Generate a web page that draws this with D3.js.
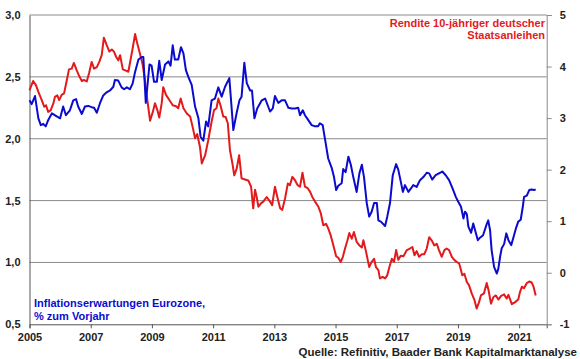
<!DOCTYPE html>
<html>
<head>
<meta charset="utf-8">
<script src="https://cdn.jsdelivr.net/npm/d3@7/dist/d3.min.js"></script>
<style>
  body { margin: 0; background: #fff; }
  svg text { font-family: "Liberation Sans", Arial, sans-serif; font-weight: bold; }
</style>
</head>
<body>
<svg id="chart" width="580" height="359"></svg>
<script>
// Inflationserwartungen Eurozone (linke Achse), [Jahr, % zum Vorjahr]
const inflation = [
  [2005.00, 2.31], [2005.07, 2.28], [2005.18, 2.345], [2005.29, 2.165], [2005.37, 2.11], [2005.45, 2.12],
  [2005.53, 2.10], [2005.61, 2.15], [2005.73, 2.205], [2005.89, 2.18], [2006.00, 2.165], [2006.10, 2.26],
  [2006.19, 2.19], [2006.32, 2.23], [2006.43, 2.31], [2006.52, 2.32], [2006.59, 2.26], [2006.71, 2.20],
  [2006.81, 2.26], [2006.92, 2.265], [2007.03, 2.255], [2007.11, 2.25], [2007.20, 2.21], [2007.30, 2.285],
  [2007.41, 2.35], [2007.52, 2.375], [2007.63, 2.39], [2007.74, 2.42], [2007.79, 2.475], [2007.90, 2.47],
  [2008.01, 2.415], [2008.09, 2.40], [2008.18, 2.415], [2008.28, 2.40], [2008.37, 2.445], [2008.45, 2.54],
  [2008.56, 2.64], [2008.67, 2.66], [2008.72, 2.66], [2008.80, 2.29], [2008.92, 2.60], [2008.99, 2.59],
  [2009.07, 2.46], [2009.16, 2.46], [2009.24, 2.63], [2009.32, 2.475], [2009.43, 2.60], [2009.54, 2.625],
  [2009.61, 2.59], [2009.68, 2.755], [2009.75, 2.64], [2009.86, 2.64], [2009.95, 2.74], [2010.03, 2.69],
  [2010.11, 2.555], [2010.19, 2.50], [2010.30, 2.435], [2010.41, 2.26], [2010.52, 2.165], [2010.59, 2.016],
  [2010.68, 1.985], [2010.77, 2.14], [2010.84, 2.10], [2010.95, 2.31], [2011.06, 2.325], [2011.17, 2.415],
  [2011.28, 2.34], [2011.39, 2.42], [2011.53, 2.49], [2011.66, 2.07], [2011.77, 2.21], [2011.86, 2.31],
  [2011.93, 2.34], [2012.02, 2.615], [2012.10, 2.45], [2012.21, 2.39], [2012.27, 2.39], [2012.35, 2.165],
  [2012.44, 2.245], [2012.59, 2.31], [2012.70, 2.325], [2012.86, 2.22], [2012.95, 2.245], [2013.02, 2.345],
  [2013.13, 2.29], [2013.24, 2.31], [2013.35, 2.31], [2013.46, 2.25], [2013.57, 2.245], [2013.68, 2.245],
  [2013.78, 2.25], [2013.84, 2.19], [2013.93, 2.23], [2014.00, 2.19], [2014.11, 2.15], [2014.22, 2.11],
  [2014.33, 2.10], [2014.43, 2.10], [2014.49, 2.125], [2014.58, 2.11], [2014.66, 1.99], [2014.76, 1.84],
  [2014.88, 1.76], [2014.95, 1.69], [2015.02, 1.585], [2015.09, 1.62], [2015.20, 1.64], [2015.25, 1.755],
  [2015.33, 1.73], [2015.42, 1.855], [2015.50, 1.79], [2015.58, 1.69], [2015.69, 1.57], [2015.78, 1.72],
  [2015.86, 1.79], [2015.93, 1.69], [2016.02, 1.48], [2016.10, 1.37], [2016.18, 1.41], [2016.26, 1.48],
  [2016.35, 1.48], [2016.40, 1.34], [2016.48, 1.33], [2016.62, 1.295], [2016.69, 1.37], [2016.78, 1.48],
  [2016.87, 1.705], [2016.98, 1.795], [2017.05, 1.75], [2017.13, 1.655], [2017.20, 1.57], [2017.27, 1.625],
  [2017.38, 1.57], [2017.47, 1.60], [2017.54, 1.625], [2017.65, 1.61], [2017.76, 1.665], [2017.87, 1.69],
  [2017.98, 1.725], [2018.06, 1.72], [2018.16, 1.67], [2018.27, 1.705], [2018.38, 1.72], [2018.49, 1.735],
  [2018.60, 1.705], [2018.71, 1.665], [2018.82, 1.60], [2018.93, 1.53], [2019.01, 1.49], [2019.10, 1.45],
  [2019.18, 1.355], [2019.23, 1.41], [2019.29, 1.39], [2019.34, 1.29], [2019.43, 1.24], [2019.50, 1.315],
  [2019.56, 1.26], [2019.65, 1.18], [2019.72, 1.20], [2019.82, 1.22], [2019.94, 1.31], [2019.99, 1.34],
  [2020.05, 1.26], [2020.10, 1.10], [2020.18, 0.965], [2020.27, 0.91], [2020.32, 0.95], [2020.38, 1.05],
  [2020.43, 1.115], [2020.51, 1.15], [2020.58, 1.235], [2020.65, 1.18], [2020.74, 1.14], [2020.81, 1.20],
  [2020.90, 1.28], [2020.97, 1.33], [2021.05, 1.345], [2021.12, 1.45], [2021.16, 1.53], [2021.25, 1.54],
  [2021.33, 1.585], [2021.41, 1.59], [2021.49, 1.585], [2021.54, 1.59]
];

// Rendite 10-jähriger deutscher Staatsanleihen (rechte Achse), [Jahr, %]
const bundYield = [
  [2005.00, 3.54], [2005.04, 3.60], [2005.12, 3.72], [2005.21, 3.64], [2005.29, 3.51], [2005.40, 3.35],
  [2005.48, 3.22], [2005.54, 3.25], [2005.61, 3.12], [2005.69, 3.15], [2005.78, 3.285], [2005.83, 3.41],
  [2005.91, 3.44], [2005.97, 3.35], [2006.05, 3.45], [2006.13, 3.48], [2006.22, 3.74], [2006.29, 3.945],
  [2006.38, 3.96], [2006.45, 4.07], [2006.54, 3.93], [2006.62, 3.82], [2006.71, 3.72], [2006.78, 3.74],
  [2006.87, 3.71], [2006.95, 3.88], [2007.03, 4.09], [2007.11, 3.96], [2007.20, 3.99], [2007.28, 4.09],
  [2007.36, 4.22], [2007.43, 4.56], [2007.52, 4.42], [2007.61, 4.29], [2007.69, 4.33], [2007.76, 4.29],
  [2007.83, 4.19], [2007.90, 4.12], [2007.96, 4.22], [2008.05, 3.945], [2008.15, 3.92], [2008.23, 3.90],
  [2008.32, 4.19], [2008.37, 4.35], [2008.45, 4.63], [2008.52, 4.45], [2008.61, 4.25], [2008.70, 4.03],
  [2008.77, 3.74], [2008.85, 3.35], [2008.94, 2.95], [2009.03, 3.12], [2009.10, 3.29], [2009.18, 3.15],
  [2009.24, 3.01], [2009.32, 3.29], [2009.37, 3.60], [2009.46, 3.45], [2009.57, 3.35], [2009.68, 3.25],
  [2009.79, 3.23], [2009.86, 3.19], [2009.94, 3.38], [2010.03, 3.19], [2010.14, 3.09], [2010.25, 3.03],
  [2010.33, 2.83], [2010.41, 2.61], [2010.48, 2.69], [2010.57, 2.44], [2010.63, 2.12], [2010.74, 2.28],
  [2010.84, 2.57], [2010.95, 2.93], [2011.03, 3.155], [2011.11, 3.19], [2011.17, 3.38], [2011.24, 3.25],
  [2011.33, 3.03], [2011.41, 3.02], [2011.48, 2.90], [2011.55, 2.38], [2011.63, 2.12], [2011.69, 1.89],
  [2011.77, 2.02], [2011.85, 2.28], [2011.93, 1.83], [2012.04, 1.81], [2012.15, 1.79], [2012.24, 1.67],
  [2012.31, 1.25], [2012.37, 1.61], [2012.42, 1.48], [2012.48, 1.28], [2012.57, 1.35], [2012.64, 1.38],
  [2012.75, 1.47], [2012.86, 1.38], [2012.93, 1.31], [2013.02, 1.67], [2013.11, 1.44], [2013.19, 1.25],
  [2013.26, 1.22], [2013.35, 1.44], [2013.44, 1.73], [2013.51, 1.70], [2013.59, 1.86], [2013.68, 1.79],
  [2013.76, 1.70], [2013.84, 1.67], [2013.92, 1.94], [2014.00, 1.67], [2014.09, 1.64], [2014.17, 1.57],
  [2014.24, 1.47], [2014.33, 1.38], [2014.44, 1.28], [2014.52, 1.15], [2014.60, 0.92], [2014.69, 0.95],
  [2014.76, 0.86], [2014.84, 0.73], [2014.93, 0.53], [2015.02, 0.32], [2015.09, 0.29], [2015.17, 0.21],
  [2015.24, 0.31], [2015.31, 0.47], [2015.39, 0.63], [2015.45, 0.77], [2015.53, 0.66], [2015.60, 0.79],
  [2015.69, 0.60], [2015.78, 0.53], [2015.86, 0.49], [2015.91, 0.63], [2016.00, 0.40], [2016.10, 0.11],
  [2016.18, 0.21], [2016.26, 0.27], [2016.32, 0.11], [2016.40, 0.05], [2016.45, -0.11], [2016.54, -0.08],
  [2016.62, -0.11], [2016.69, -0.05], [2016.76, 0.11], [2016.84, 0.27], [2016.91, 0.21], [2016.98, 0.44],
  [2017.05, 0.25], [2017.13, 0.33], [2017.22, 0.32], [2017.33, 0.44], [2017.43, 0.47], [2017.51, 0.50],
  [2017.58, 0.34], [2017.65, 0.42], [2017.73, 0.31], [2017.82, 0.36], [2017.90, 0.36], [2017.98, 0.47],
  [2018.06, 0.69], [2018.14, 0.63], [2018.23, 0.53], [2018.31, 0.56], [2018.38, 0.44], [2018.47, 0.31],
  [2018.56, 0.44], [2018.63, 0.47], [2018.71, 0.44], [2018.80, 0.31], [2018.88, 0.25], [2018.96, 0.21],
  [2019.04, 0.18], [2019.10, 0.05], [2019.14, -0.05], [2019.21, -0.02], [2019.29, -0.18], [2019.36, -0.24],
  [2019.45, -0.40], [2019.54, -0.53], [2019.61, -0.695], [2019.69, -0.57], [2019.75, -0.44], [2019.85, -0.40],
  [2019.94, -0.20], [2020.00, -0.34], [2020.08, -0.60], [2020.16, -0.47], [2020.24, -0.44], [2020.32, -0.52],
  [2020.41, -0.45], [2020.51, -0.42], [2020.59, -0.50], [2020.65, -0.43], [2020.76, -0.61], [2020.87, -0.57],
  [2020.97, -0.52], [2021.03, -0.37], [2021.09, -0.27], [2021.16, -0.30], [2021.25, -0.20], [2021.33, -0.17],
  [2021.41, -0.19], [2021.47, -0.27], [2021.54, -0.44]
];

const leftTicks = [0.5, 1.0, 1.5, 2.0, 2.5, 3.0];
const rightTicks = [-1, 0, 1, 2, 3, 4, 5];
const yearTicks = [2005, 2007, 2009, 2011, 2013, 2015, 2017, 2019, 2021];

const blue = '#0b0bcf';
const red = '#e31a1c';

const svg = d3.select('#chart');
const margin = { top: 15, right: 33.3, bottom: 34.7, left: 29.5 };
const width = 580 - margin.left - margin.right;
const height = 359 - margin.top - margin.bottom;
const g = svg.append('g').attr('transform', `translate(${margin.left},${margin.top})`);

const x = d3.scaleLinear().domain([2005, 2021.9]).range([0, width]);
const yL = d3.scaleLinear().domain([0.5, 3.0]).range([height, 0]);
const yR = d3.scaleLinear().domain([-1, 5]).range([height, 0]);

// horizontal grid at the left-axis ticks
g.selectAll('.grid')
  .data(leftTicks.slice(1))
  .enter().append('line')
  .attr('x1', 0).attr('x2', width)
  .attr('y1', d => yL(d)).attr('y2', d => yL(d))
  .attr('stroke', '#8a8a8a').attr('stroke-width', 1);

const comma = d => d3.format('.1f')(d).replace('.', ',');

const left = g.append('g')
  .call(d3.axisLeft(yL).tickValues(leftTicks).tickSize(0).tickPadding(9).tickFormat(comma));
left.select('.domain').attr('stroke', '#555');

const bottom = g.append('g')
  .attr('transform', `translate(0,${height})`)
  .call(d3.axisBottom(x).tickValues(yearTicks).tickSize(4).tickPadding(5).tickFormat(d3.format('d')));
bottom.select('.domain').attr('stroke', '#555');
bottom.selectAll('.tick line').attr('stroke', '#555');

const right = g.append('g')
  .attr('transform', `translate(${width},0)`)
  .call(d3.axisRight(yR).tickValues(rightTicks).tickSize(5).tickPadding(8).tickFormat(d => String(d)));
right.select('.domain').attr('stroke', '#8a8a8a');
right.selectAll('.tick line').attr('stroke', '#8a8a8a');

g.selectAll('.tick text').attr('font-size', 11).attr('fill', '#222');

g.append('path')
  .datum(bundYield)
  .attr('fill', 'none')
  .attr('stroke', red)
  .attr('stroke-width', 2)
  .attr('stroke-linejoin', 'round')
  .attr('d', d3.line().x(d => x(d[0])).y(d => yR(d[1])));

g.append('path')
  .datum(inflation)
  .attr('fill', 'none')
  .attr('stroke', blue)
  .attr('stroke-width', 2)
  .attr('stroke-linejoin', 'round')
  .attr('d', d3.line().x(d => x(d[0])).y(d => yL(d[1])));

// labels
const redText = svg.append('text').attr('text-anchor', 'end').attr('fill', red).attr('font-size', 11);
redText.append('tspan').attr('x', 545).attr('y', 27).text('Rendite 10-jähriger deutscher');
redText.append('tspan').attr('x', 545).attr('y', 39).text('Staatsanleihen');

const blueText = svg.append('text').attr('fill', blue).attr('font-size', 11);
blueText.append('tspan').attr('x', 34).attr('y', 307).text('Inflationserwartungen Eurozone,');
blueText.append('tspan').attr('x', 34).attr('y', 320).text('% zum Vorjahr');

svg.append('text')
  .attr('x', 577).attr('y', 356)
  .attr('text-anchor', 'end')
  .attr('font-size', 11.5)
  .attr('fill', '#222')
  .text('Quelle: Refinitiv, Baader Bank Kapitalmarktanalyse');
</script>
</body>
</html>
